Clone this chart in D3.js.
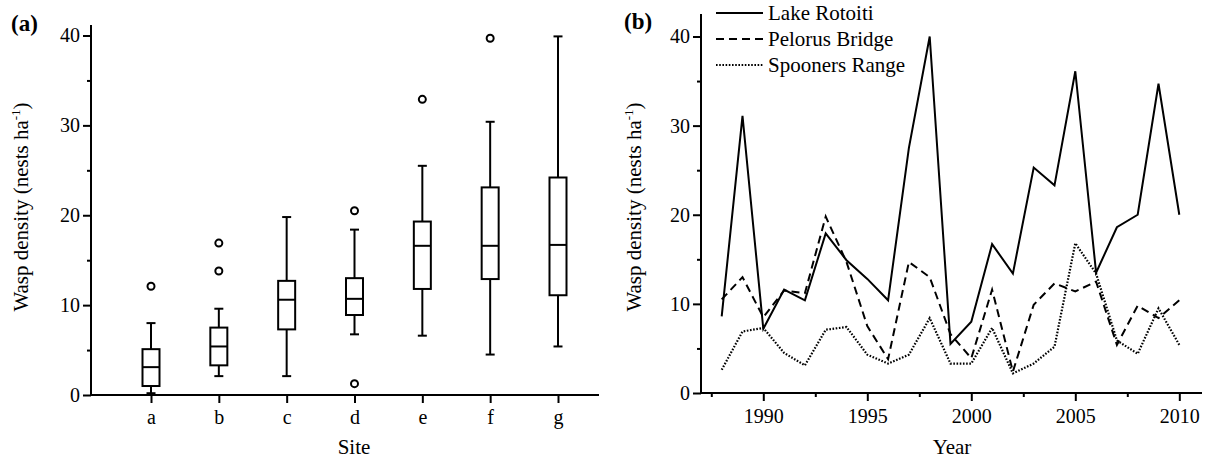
<!DOCTYPE html>
<html><head><meta charset="utf-8">
<script src="https://cdn.jsdelivr.net/npm/d3@7"></script>
<style>
html,body{margin:0;padding:0;background:#fff;}
svg text{font-family:"Liberation Serif","Times New Roman",Times,serif !important;fill:#000;}
</style></head>
<body><svg id="c" width="1211" height="461"></svg>
<script>
// ---- Panel (a) data: box plots by site ----
const sites = ["a","b","c","d","e","f","g"];
const whiskerLow  = [0.2, 2.1, 2.1, 6.75, 6.6, 4.5, 5.4];
const q1          = [1.0, 3.3, 7.3, 8.9, 11.8, 12.9, 11.1];
const medians     = [3.1, 5.4, 10.6, 10.7, 16.6, 16.6, 16.7];
const q3          = [5.1, 7.5, 12.7, 13.0, 19.3, 23.1, 24.2];
const whiskerHigh = [8.0, 9.6, 19.8, 18.4, 25.5, 30.4, 39.9];
const outliers    = [[12.1], [16.9, 13.8], [], [20.5, 1.26], [32.9], [39.7], []];
const yTicksA = [0, 10, 20, 30, 40];

// ---- Panel (b) data: time series ----
const years = [1988,1989,1990,1991,1992,1993,1994,1995,1996,1997,1998,1999,2000,2001,2002,2003,2004,2005,2006,2007,2008,2009,2010];
const lakeRotoiti    = [8.6, 31.1, 7.2, 11.6, 10.4, 17.9, 14.9, 12.8, 10.4, 27.5, 40.0, 5.5, 8.0, 16.7, 13.4, 25.3, 23.3, 36.1, 13.5, 18.6, 20.0, 34.7, 20.0];
const pelorusBridge  = [10.5, 13.0, 8.5, 11.5, 11.2, 19.8, 14.7, 7.5, 3.8, 14.7, 13.0, 6.6, 3.9, 11.6, 2.4, 9.9, 12.3, 11.4, 12.5, 5.4, 9.8, 8.4, 10.4];
const spoonersRange  = [2.6, 6.9, 7.3, 4.5, 3.1, 7.1, 7.4, 4.3, 3.3, 4.3, 8.4, 3.3, 3.3, 7.3, 2.2, 3.3, 5.2, 16.8, 13.4, 5.9, 4.4, 9.5, 5.4];
const seriesNames = ["Lake Rotoiti", "Pelorus Bridge", "Spooners Range"];
const xTicksB = [1990, 1995, 2000, 2005, 2010];
const xMinorB = [1987.5, 1992.5, 1997.5, 2002.5, 2007.5];
const yTicksB = [0, 10, 20, 30, 40];
const yMinor = [5, 15, 25, 35];

const svg = d3.select("#c");
const FS = 20;
const SERIF = '"Liberation Serif","Times New Roman",Times,serif';

function styleAxis(g, w) {
  g.attr("font-family", SERIF).attr("font-size", FS);
  g.selectAll("path.domain").remove();
  g.selectAll("line").attr("stroke", "#000").attr("stroke-width", w || 2);
  g.selectAll("text").attr("fill", "#000");
}

// ================= Panel (a) =================
const xa = d3.scalePoint().domain(sites).range([151, 558]);
const ya = d3.scaleLinear().domain([0, 40]).range([395, 35.5]);

const ga = svg.append("g");
ga.append("line").attr("x1", 91).attr("x2", 91).attr("y1", 25).attr("y2", 395).attr("stroke", "#000").attr("stroke-width", 2);
ga.append("line").attr("x1", 90).attr("x2", 599).attr("y1", 395).attr("y2", 395).attr("stroke", "#000").attr("stroke-width", 2);

const yAxA = ga.append("g").attr("transform", "translate(91,0)")
  .call(d3.axisLeft(ya).tickValues(yTicksA).tickSize(8).tickPadding(3).tickFormat(d3.format("d")));
styleAxis(yAxA);
const yAxAm = ga.append("g").attr("transform", "translate(91,0)")
  .call(d3.axisLeft(ya).tickValues(yMinor).tickSize(4).tickFormat(""));
styleAxis(yAxAm);
const xAxA = ga.append("g").attr("transform", "translate(0,395)")
  .call(d3.axisBottom(xa).tickSize(8).tickPadding(7));
styleAxis(xAxA);

const boxW = 17, capW = 9;
sites.forEach((s, i) => {
  const cx = xa(s);
  const g = ga.append("g").attr("stroke", "#000").attr("stroke-width", 2).attr("fill", "none");
  g.append("line").attr("x1", cx).attr("x2", cx).attr("y1", ya(whiskerHigh[i])).attr("y2", ya(q3[i]));
  g.append("line").attr("x1", cx).attr("x2", cx).attr("y1", ya(q1[i])).attr("y2", ya(whiskerLow[i]));
  g.append("line").attr("x1", cx - capW/2).attr("x2", cx + capW/2).attr("y1", ya(whiskerHigh[i])).attr("y2", ya(whiskerHigh[i]));
  g.append("line").attr("x1", cx - capW/2).attr("x2", cx + capW/2).attr("y1", ya(whiskerLow[i])).attr("y2", ya(whiskerLow[i]));
  g.append("rect").attr("x", cx - boxW/2).attr("width", boxW).attr("y", ya(q3[i])).attr("height", ya(q1[i]) - ya(q3[i])).attr("fill", "#fff");
  g.append("line").attr("x1", cx - boxW/2).attr("x2", cx + boxW/2).attr("y1", ya(medians[i])).attr("y2", ya(medians[i]));
  outliers[i].forEach(v => {
    g.append("circle").attr("cx", cx).attr("cy", ya(v)).attr("r", 3.5);
  });
});

ga.append("text").attr("x", 354).attr("y", 454).attr("text-anchor", "middle").attr("font-family", SERIF).attr("font-size", 21).text("Site");
const yla = ga.append("text").attr("transform", "translate(28,207) rotate(-90)").attr("text-anchor", "middle").attr("font-family", SERIF).attr("font-size", 21);
yla.append("tspan").text("Wasp density (nests ha");
yla.append("tspan").attr("dy", -8).attr("font-size", 13).text("-1");
yla.append("tspan").attr("dy", 8).text(")");
ga.append("text").attr("x", 11).attr("y", 31).attr("font-family", SERIF).attr("font-size", 23).attr("font-weight", "bold").text("(a)");

// ================= Panel (b) =================
const xb = d3.scaleLinear().domain([1990, 2010]).range([763.3, 1179.3]);
const yb = d3.scaleLinear().domain([0, 40]).range([393, 36.5]);
const gb = svg.append("g");
gb.append("line").attr("x1", 701).attr("x2", 701).attr("y1", 14).attr("y2", 393).attr("stroke", "#000").attr("stroke-width", 2);
gb.append("line").attr("x1", 700).attr("x2", 1202).attr("y1", 393).attr("y2", 393).attr("stroke", "#000").attr("stroke-width", 2);

const yAxB = gb.append("g").attr("transform", "translate(701,0)")
  .call(d3.axisLeft(yb).tickValues(yTicksB).tickSize(8).tickPadding(3).tickFormat(d3.format("d")));
styleAxis(yAxB);
const yAxBm = gb.append("g").attr("transform", "translate(701,0)")
  .call(d3.axisLeft(yb).tickValues(yMinor).tickSize(4).tickFormat(""));
styleAxis(yAxBm);
const xAxB = gb.append("g").attr("transform", "translate(0,393)")
  .call(d3.axisBottom(xb).tickValues(xTicksB).tickSize(8).tickPadding(8).tickFormat(d3.format("d")));
styleAxis(xAxB);
const xAxBm = gb.append("g").attr("transform", "translate(0,393)")
  .call(d3.axisBottom(xb).tickValues(xMinorB).tickSize(4).tickFormat(""));
styleAxis(xAxBm);

const dashes = [null, "8,5", "1.6,1.6"];
const allSeries = [lakeRotoiti, pelorusBridge, spoonersRange];
const line = d3.line().x((d, i) => xb(years[i])).y(d => yb(d));
allSeries.forEach((vals, k) => {
  gb.append("path").datum(vals).attr("d", line).attr("fill", "none").attr("stroke", "#000")
    .attr("stroke-width", k === 2 ? 2.2 : 2).attr("stroke-dasharray", dashes[k]).attr("stroke-linejoin", "miter");
});

seriesNames.forEach((n, k) => {
  const yy = 13 + k * 26;
  gb.append("line").attr("x1", 716).attr("x2", 763).attr("y1", yy).attr("y2", yy)
    .attr("stroke", "#000").attr("stroke-width", k === 2 ? 2.2 : 2).attr("stroke-dasharray", dashes[k]);
  gb.append("text").attr("x", 768).attr("y", yy + 7).attr("font-family", SERIF).attr("font-size", 21).text(n);
});

gb.append("text").attr("x", 952).attr("y", 454).attr("text-anchor", "middle").attr("font-family", SERIF).attr("font-size", 21).text("Year");
const ylb = gb.append("text").attr("transform", "translate(641,207) rotate(-90)").attr("text-anchor", "middle").attr("font-family", SERIF).attr("font-size", 21);
ylb.append("tspan").text("Wasp density (nests ha");
ylb.append("tspan").attr("dy", -8).attr("font-size", 13).text("-1");
ylb.append("tspan").attr("dy", 8).text(")");
gb.append("text").attr("x", 624).attr("y", 29).attr("font-family", SERIF).attr("font-size", 23).attr("font-weight", "bold").text("(b)");
</script></body></html>
